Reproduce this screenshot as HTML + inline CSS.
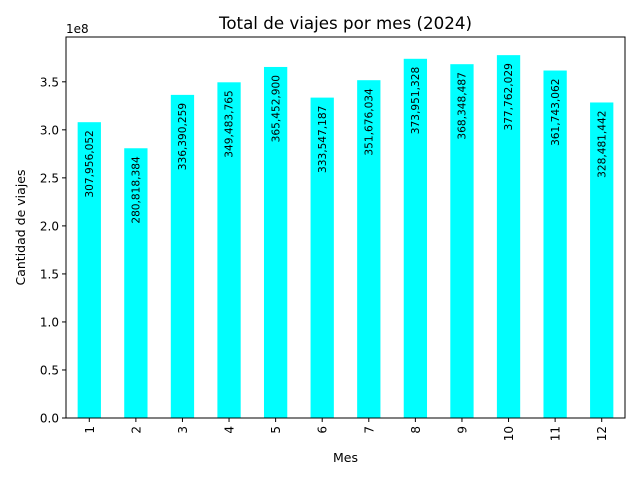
<!DOCTYPE html>
<html><head><meta charset="utf-8"><style>body{margin:0;background:#fff}svg{display:block;font-family:"DejaVu Sans","Liberation Sans",sans-serif}</style></head>
<body>
<svg id="chart" width="640" height="480">
<rect x="0" y="0" width="640" height="480" fill="#fff"/>
<text x="345.5" y="29" text-anchor="middle" font-size="16.7">Total de viajes por mes (2024)</text>
<g id="bars"></g>
<g id="yticks"></g>
<g id="xticks"></g>
<rect x="66" y="37" width="559" height="381" fill="none" stroke="#000" stroke-width="1"/>
<text x="66" y="33" font-size="12">1e8</text>
<text x="345.5" y="462" text-anchor="middle" font-size="12.5">Mes</text>
<text transform="translate(25,227.5) rotate(-90)" text-anchor="middle" font-size="12.5">Cantidad de viajes</text>
</svg>
<script>
const categories = ["1","2","3","4","5","6","7","8","9","10","11","12"];
const values = [307956052,280818384,336390259,349483765,365452900,333547187,351676034,373951328,368348487,377762029,361743062,328481442];
const yTicks = [0,0.5,1.0,1.5,2.0,2.5,3.0,3.5];
const yTickLabels = ["0.0","0.5","1.0","1.5","2.0","2.5","3.0","3.5"];
const L=66,R=625,T=37,B=418;
const yMax = Math.max(...values)*1.05;
const ys = v => B - v/yMax*(B-T);
const step=(R-L)/categories.length;
const xs = i => L + step*(i+0.5);
const NS="http://www.w3.org/2000/svg";
const gb=document.getElementById('bars'), gy=document.getElementById('yticks'), gx=document.getElementById('xticks');
function mk(tag,attrs){const e=document.createElementNS(NS,tag);for(const k in attrs)e.setAttribute(k,attrs[k]);return e;}
values.forEach((v,i)=>{
  const cx=xs(i), w=step*0.5, top=ys(v);
  const r=mk('rect',{x:cx-w/2,y:top,width:w,height:B-top,fill:'#00ffff'});
  
  
  gb.appendChild(r);
  const t=mk('text',{transform:`translate(${cx+3.7},${top+8}) rotate(-90)`,'text-anchor':'end','font-size':'10.6'});
  t.textContent=v.toLocaleString('en-US');
  
  
  gb.appendChild(t);
  const tk=mk('line',{x1:cx,x2:cx,y1:B,y2:B+4,stroke:'#000'});
  
  
  gx.appendChild(tk);
  const tl=mk('text',{transform:`translate(${cx+4.5},${B+8}) rotate(-90)`,'text-anchor':'end','font-size':'12'});
  tl.textContent=categories[i];
  
  
  gx.appendChild(tl);
});
yTicks.forEach((v,i)=>{
  const y=ys(v*1e8);
  const tk=mk('line',{x1:L-4,x2:L,y1:y,y2:y,stroke:'#000'});
  
  
  gy.appendChild(tk);
  const tl=mk('text',{x:L-7,y:y+4.5,'text-anchor':'end','font-size':'12'});
  tl.textContent=yTickLabels[i];
  
  
  gy.appendChild(tl);
});
</script>
</body></html>
